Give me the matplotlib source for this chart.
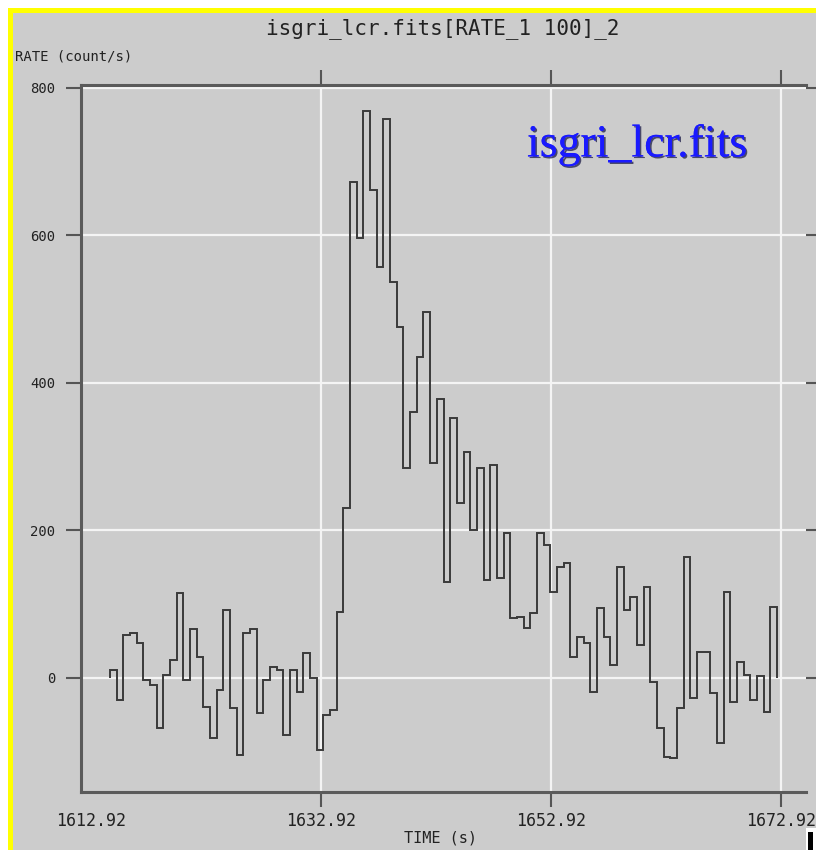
import numpy as np
import matplotlib
matplotlib.use('Agg')
import matplotlib.pyplot as plt
import matplotlib.patheffects as pe
from matplotlib.patches import Rectangle

# ISGRI light curve, 100 bins of count rate (count/s)
t_start = 1614.57   # left edge of the first bin (s)
bin_width = 0.58    # s
rate = [
    11, -30, 58, 61, 47, -3, -10, -68, 4, 24,
    115, -3, 67, 29, -39, -81, -16, 92, -41, -104,
    61, 67, -48, -3, 15, 11, -77, 11, -19, 34,
    0, -98, -50, -43, 89, 230, 673, 597, 769, 662,
    557, 758, 537, 476, 285, 361, 435, 496, 292, 378,
    130, 353, 237, 306, 201, 285, 133, 289, 135, 197,
    81, 83, 68, 88, 197, 180, 117, 151, 156, 29,
    56, 47, -19, 95, 56, 18, 151, 92, 110, 45,
    124, -5, -68, -107, -109, -41, 164, -27, 35, 35,
    -20, -88, 117, -32, 22, 4, -30, 3, -46, 96,
]

xtick_pos = [1612.92, 1632.92, 1652.92, 1672.92]
xtick_labels = ['1612.92', '1632.92', '1652.92', '1672.92']
ytick_pos = [0, 200, 400, 600, 800]
ytick_labels = ['0', '200', '400', '600', '800']

W, H = 816, 850
BG = '#cccccc'
MONO = 'DejaVu Sans Mono'


def px_rect(fig, x0, y0, x1, y1, color):
    # rectangle given in pixel coords (origin top-left)
    fig.patches.append(Rectangle((x0 / W, 1 - y1 / H), (x1 - x0) / W, (y1 - y0) / H,
                                 transform=fig.transFigure, facecolor=color,
                                 edgecolor='none', zorder=0))


def plot_lightcurve():
    fig = plt.figure(figsize=(W / 100, H / 100), dpi=100, facecolor=BG)

    # window frame: white margin + yellow highlight on top/left
    px_rect(fig, 0, 0, W, 8, 'white')
    px_rect(fig, 0, 0, 8, H, 'white')
    px_rect(fig, 8, 8, W, 13, '#ffff00')
    px_rect(fig, 8, 8, 13, H, '#ffff00')

    # axes box in pixels: x 81..806, y 85..792
    ax = fig.add_axes([81 / W, 1 - 792 / H, 725 / W, 707 / H], facecolor=BG)

    edges = t_start + bin_width * np.arange(len(rate) + 1)
    ax.stairs(rate, edges, baseline=0, color='#3a3a3a', lw=1.4, zorder=3)

    ax.set_xlim(1612.05, 1675.09)
    ax.set_ylim(-154.6, 804)

    ax.set_xticks(xtick_pos)
    ax.set_xticklabels(xtick_labels, fontfamily=MONO, fontsize=12, color='#222')
    ax.set_yticks(ytick_pos)
    ax.set_yticklabels(ytick_labels, fontfamily=MONO, fontsize=10, color='#222')

    ax.tick_params(axis='both', direction='out', length=10.5, width=1.5, color='#555',
                   top=True, right=True, labeltop=False, labelright=False)
    ax.tick_params(axis='x', pad=4)
    ax.tick_params(axis='y', pad=8)

    ax.grid(True, color='#f4f4f4', lw=1.6)
    ax.set_axisbelow(True)

    # first time label sits at the axis start, no tick/grid line there
    t0 = ax.xaxis.get_major_ticks()[0]
    t0.tick1line.set_visible(False)
    t0.tick2line.set_visible(False)
    t0.gridline.set_visible(False)

    for sp in ax.spines.values():
        sp.set_color('#5a5a5a')
        sp.set_linewidth(2.2)
    ax.spines['right'].set_visible(False)

    # titles
    fig.text(443 / W, 1 - 29 / H, 'isgri_lcr.fits[RATE_1 100]_2', ha='center', va='center',
             fontfamily=MONO, fontsize=15, color='#222')
    fig.text(15 / W, 1 - 57 / H, 'RATE (count/s)', ha='left', va='center',
             fontfamily=MONO, fontsize=10, color='#222')
    fig.text(440 / W, 1 - 838 / H, 'TIME (s)', ha='center', va='center',
             fontfamily=MONO, fontsize=11, color='#222')

    # file name annotation
    fig.text(527 / W, 1 - 145 / H, 'isgri_lcr.fits', ha='left', va='center',
             fontfamily='Liberation Serif', fontsize=33, color='#1a1aff',
             path_effects=[pe.withSimplePatchShadow(offset=(1.2, -1.2),
                                                    shadow_rgbFace='#101040', alpha=0.7),
                           pe.Normal()])

    # small widget in the bottom-right corner
    px_rect(fig, 806, 828, W, H, 'white')
    px_rect(fig, 808, 832, 813, H, 'black')

    fig.savefig('out.png', dpi=100, facecolor=fig.get_facecolor())
    plt.close(fig)


if __name__ == '__main__':
    plot_lightcurve()
